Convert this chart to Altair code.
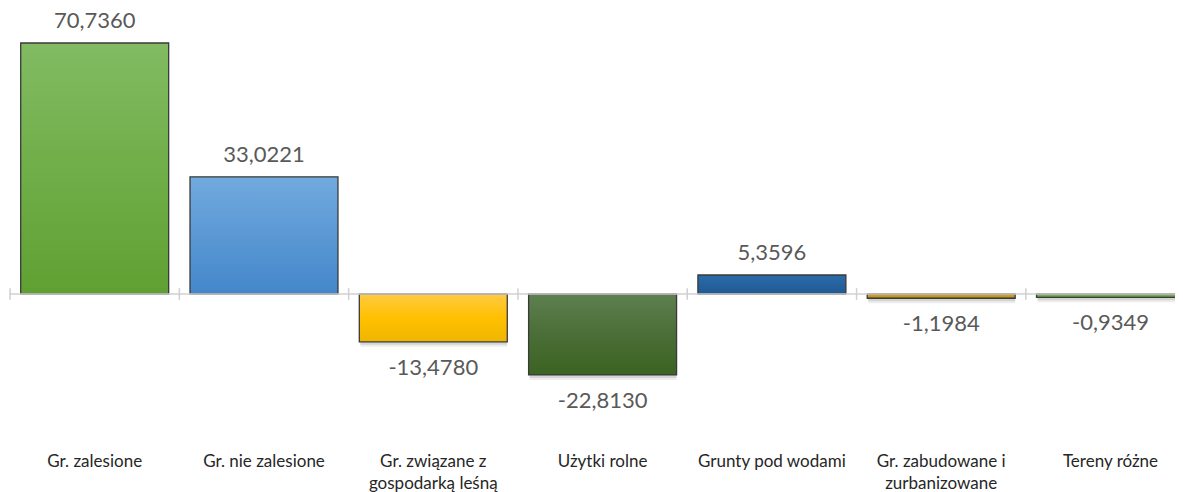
import altair as alt
import pandas as pd

categories = [
    "Gr. zalesione",
    "Gr. nie zalesione",
    "Gr. związane z\ngospodarką leśną",
    "Użytki rolne",
    "Grunty pod wodami",
    "Gr. zabudowane i\nzurbanizowane",
    "Tereny różne",
]
values = [70.7360, 33.0221, -13.4780, -22.8130, 5.3596, -1.1984, -0.9349]
top_colors = ["#82bb62", "#72aadf", "#ffca42", "#5f7f50", "#2c6cab", "#dcaa30", "#7ab552"]
mid_colors = ["#70ae49", "#5b98d4", "#ffc000", "#4a6e37", "#25629e", "#c99a20", "#70ad47"]
bottom_colors = ["#60a032", "#4387cb", "#efb600", "#3b6321", "#1e5a92", "#b8860b", "#5f9a38"]

df = pd.DataFrame({"idx": list(range(len(categories))), "category": categories, "value": values})

X = alt.Scale(domain=[-0.512, 6.381], nice=False, zero=False)
Y = alt.Scale(domain=[-55.8, 80.6], nice=False, zero=False)

base = alt.Chart(df).transform_calculate(
    x0="datum.idx - 0.437",
    x1="datum.idx + 0.437",
    b="datum.idx - 0.5",
    zero="0",
    tlo="-1.65",
    thi="1.65",
    lineL="-0.5",
    lineR="6.5",
    label="(datum.value < 0 ? '-' : '') + replace(format(abs(datum.value), '.4f'), '.', ',')",
)

layers = []

# shadows
for off, op in [(3, 0.10), (5, 0.07)]:
    layers.append(
        base.mark_bar(color="#000000", opacity=op, yOffset=off, xOffset=1, clip=True).encode(
            x=alt.X("x0:Q", scale=X, axis=None),
            x2="x1:Q",
            y=alt.Y("value:Q", scale=Y, axis=None),
            y2="zero:Q",
        )
    )

# bars with gradient fill, one layer per bar
for i in range(len(categories)):
    grad = {
        "gradient": "linear",
        "x1": 0, "y1": 0, "x2": 0, "y2": 1,
        "stops": [
            {"color": top_colors[i], "offset": 0},
            {"color": mid_colors[i], "offset": 0.5},
            {"color": bottom_colors[i], "offset": 1},
        ],
    }
    layers.append(
        base.transform_filter(alt.datum.idx == i)
        .mark_bar(fill=grad, stroke="#3a3a3a", strokeWidth=1.3, clip=True)
        .encode(
            x=alt.X("x0:Q", scale=X, axis=None),
            x2="x1:Q",
            y=alt.Y("value:Q", scale=Y, axis=None),
            y2="zero:Q",
        )
    )

# zero line
layers.append(
    base.transform_filter(alt.datum.idx == 0)
    .mark_rule(color="#d0d0d0", strokeWidth=1.5, clip=True)
    .encode(
        x=alt.X("lineL:Q", scale=X, axis=None),
        x2="lineR:Q",
        y=alt.Y("zero:Q", scale=Y, axis=None),
    )
)

# category boundary ticks
layers.append(
    base.mark_rule(color="#d0d0d0", strokeWidth=1.5, clip=True).encode(
        x=alt.X("b:Q", scale=X, axis=None),
        y=alt.Y("tlo:Q", scale=Y, axis=None),
        y2="thi:Q",
    )
)

# value labels
layers.append(
    base.transform_filter(alt.datum.value > 0)
    .mark_text(dy=-15, baseline="alphabetic", fontSize=22, font="Lato", color="#595959")
    .encode(x=alt.X("idx:Q", scale=X, axis=None), y=alt.Y("value:Q", scale=Y, axis=None), text="label:N")
)
layers.append(
    base.transform_filter(alt.datum.value < 0)
    .mark_text(dy=33, baseline="alphabetic", fontSize=22, font="Lato", color="#595959")
    .encode(x=alt.X("idx:Q", scale=X, axis=None), y=alt.Y("value:Q", scale=Y, axis=None), text="label:N")
)

# category labels
layers.append(
    base.mark_text(baseline="alphabetic", fontSize=17, font="Lato", color="#262626",
                   lineBreak="\n", lineHeight=22)
    .encode(x=alt.X("idx:Q", scale=X, axis=None), y=alt.value(459), text="category:N")
)

chart = alt.layer(*layers).properties(
    width=1167,
    height=484,
    autosize=alt.AutoSizeParams(type="none"),
    padding=0,
).configure_view(stroke=None)

chart.save("out.html", embed_options={"renderer": "svg", "actions": False})
